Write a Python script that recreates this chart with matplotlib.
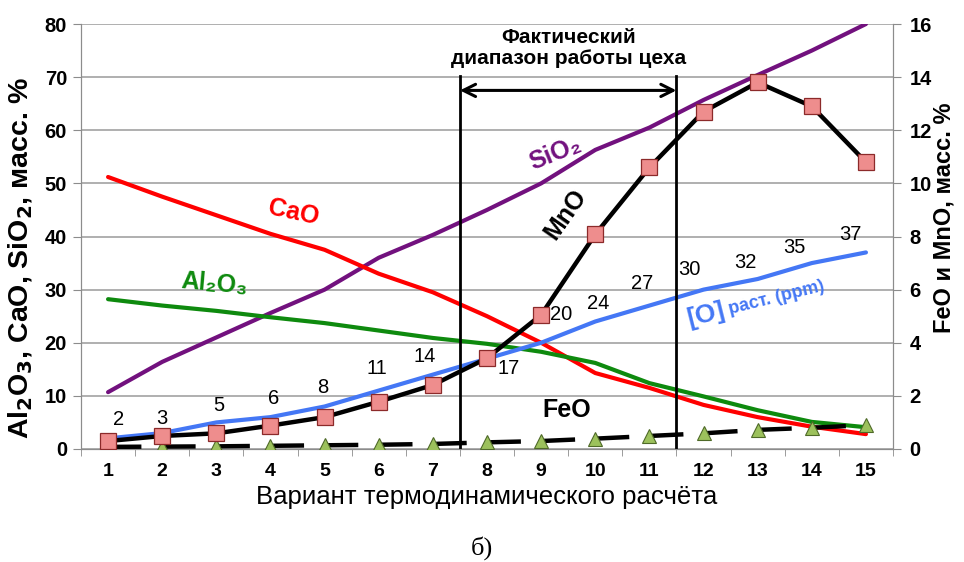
import matplotlib
matplotlib.use("Agg")
import matplotlib.pyplot as plt
import numpy as np

plt.rcParams['font.family'] = ['Liberation Sans', 'DejaVu Sans']

variants = list(range(1, 16))
sio2 = [10.7, 16.4, 21.0, 25.6, 30.0, 36.0, 40.3, 45.0, 50.0, 56.3, 60.5, 65.7, 70.4, 75.0, 80.0]
cao = [51.2, 47.5, 44.0, 40.5, 37.5, 33.0, 29.5, 25.0, 20.0, 14.3, 11.5, 8.3, 6.0, 4.2, 2.8]
al2o3 = [28.2, 27.0, 26.0, 24.8, 23.7, 22.3, 20.9, 19.8, 18.3, 16.2, 12.4, 9.9, 7.3, 5.1, 4.1]
oxygen_ppm = [2, 3, 5, 6, 8, 11, 14, 17, 20, 24, 27, 30, 32, 35, 37]
mno = [0.30, 0.49, 0.59, 0.88, 1.20, 1.78, 2.41, 3.42, 5.05, 8.08, 10.6, 12.7, 13.8, 12.9, 10.8]
feo = [0.08, 0.09, 0.10, 0.12, 0.14, 0.16, 0.19, 0.25, 0.30, 0.39, 0.49, 0.59, 0.72, 0.80, 0.90]
left_ticks = [0, 10, 20, 30, 40, 50, 60, 70, 80]
right_ticks = [0, 2, 4, 6, 8, 10, 12, 14, 16]

# label offsets (pixels) for [O] values
label_offsets = [(10, 19), (0, 15), (2, 17), (3, 19), (-2, 19), (-2, 22), (-8, 18),
                 (22, -10), (20, 28), (3, 18), (-7, 22), (-14, 20), (-12, 17), (-17, 16), (-16, 18)]

fig = plt.figure(figsize=(9.64, 5.62), dpi=100)
ax = fig.add_axes([81/964, 1-449/562, (893-81)/964, (449-24)/562])
ax2 = ax.twinx()

grey = '#8c8c8c'
ax.set_xlim(0.5, 15.5)
ax.set_ylim(0, 80)
ax2.set_ylim(0, 16)
for y in left_ticks:
    ax.axhline(y, color='#9a9a9a', lw=1.1, zorder=0)

lw = 3.0
ax.plot(variants, sio2, color='#72117e', lw=lw, solid_capstyle='round', zorder=3)
ax.plot(variants, cao, color='#ff0000', lw=lw, solid_capstyle='round', zorder=3)
ax.plot(variants, al2o3, color='#0e8a0e', lw=lw, solid_capstyle='round', zorder=3)
ax.plot(variants, oxygen_ppm, color='#4477f5', lw=lw, solid_capstyle='round', zorder=4)

ax2.plot(variants, feo, color='black', lw=3.2, linestyle=(0, (7.5, 4.7)), zorder=3,
         marker='^', markersize=10, markerfacecolor='#9cc15c', markeredgecolor='#4f6a28',
         markeredgewidth=0.8)
ax2.plot(variants, mno, color='black', lw=3.2, zorder=4,
         marker='s', markersize=11.5, markerfacecolor='#ee8d8d', markeredgecolor='#8c2a2a',
         markeredgewidth=0.9)

for xv, yv, lab, off in zip(variants, oxygen_ppm, oxygen_ppm, label_offsets):
    ax.annotate(str(lab), (xv, yv), xytext=off, textcoords='offset pixels',
                ha='center', va='center', fontsize=14.5, color='black', zorder=6)

# spines and ticks
for s in ['top']:
    ax.spines[s].set_visible(False)
    ax2.spines[s].set_visible(False)
for s in ['left', 'bottom', 'right']:
    ax.spines[s].set_color(grey)
    ax2.spines[s].set_color(grey)
ax.set_yticks(left_ticks)
ax2.set_yticks(right_ticks)
ax.set_xticks(variants)
ax.set_xticks(np.arange(0.5, 15.6, 1), minor=True)
ax.tick_params(axis='x', which='major', length=0, pad=10, labelsize=14)
ax.tick_params(axis='x', which='minor', length=5, color=grey, direction='out')
ax.tick_params(axis='y', length=6, color=grey, labelsize=14.5, pad=4)
ax2.tick_params(axis='y', length=6, color=grey, labelsize=14.5, pad=6)
for t in ax.get_xticklabels() + ax.get_yticklabels() + ax2.get_yticklabels():
    t.set_fontweight('bold')

ax.set_xlabel('Вариант термодинамического расчёта', fontsize=18.5, labelpad=4)
ax.set_ylabel('Al$_\\mathbf{2}$O$_\\mathbf{3}$, CaO, SiO$_\\mathbf{2}$, масс. %', fontsize=20.5,
              fontweight='bold', va='center')
ax.yaxis.set_label_coords(-0.074, 0.45)
ax2.set_ylabel('FeO и MnO, масс. %', fontsize=17, fontweight='bold', va='center')
ax2.yaxis.set_label_coords(1.063, 0.545)

# working range
ax.plot([7.5, 7.5], [0, 70.2], color='black', lw=2, zorder=5)
ax.plot([11.5, 11.5], [0, 70.2], color='black', lw=2, zorder=5)
ax.annotate('', xy=(7.5, 67.5), xytext=(11.5, 67.5),
            arrowprops=dict(arrowstyle='<->', lw=2.2, color='black', mutation_scale=22,
                            shrinkA=0, shrinkB=0), zorder=5)
ax.text(9.5, 75.5, 'Фактический\nдиапазон работы цеха', ha='center', va='center',
        fontsize=15, fontweight='bold', linespacing=1.15, zorder=5,
        bbox=dict(facecolor='white', edgecolor='none', pad=2))

# series labels
ax.text(9.27, 55.7, 'SiO₂', color='#72117e', fontsize=18, fontweight='bold',
        rotation=22, ha='center', va='center', zorder=6)
ax.text(4.43, 44.6, 'CaO', color='#ff0000', fontsize=18, fontweight='bold',
        rotation=-12, ha='center', va='center', zorder=6)
ax.text(2.96, 31.1, 'Al₂O₃', color='#0e8a0e', fontsize=18, fontweight='bold',
        rotation=-5, ha='center', va='center', zorder=6)
ax.text(9.45, 44.1, 'MnO', color='black', fontsize=18, fontweight='bold',
        rotation=55, ha='center', va='center', zorder=6)
ax.text(9.47, 7.3, 'FeO', color='black', fontsize=18, fontweight='bold',
        ha='center', va='center', zorder=6)
ax.text(12.05, 25.3, '[O]', color='#4477f5', fontsize=19, fontweight='bold',
        rotation=14, ha='center', va='center', zorder=6)
ax.text(13.35, 28.4, 'раст. (ppm)', color='#4477f5', fontsize=13, fontweight='bold',
        rotation=14, ha='center', va='center', zorder=6)

fig.text(482/964, 1-548/562, 'б)', fontsize=19, family='Liberation Serif',
         ha='center', va='center')

fig.savefig('out.png', dpi=100)
